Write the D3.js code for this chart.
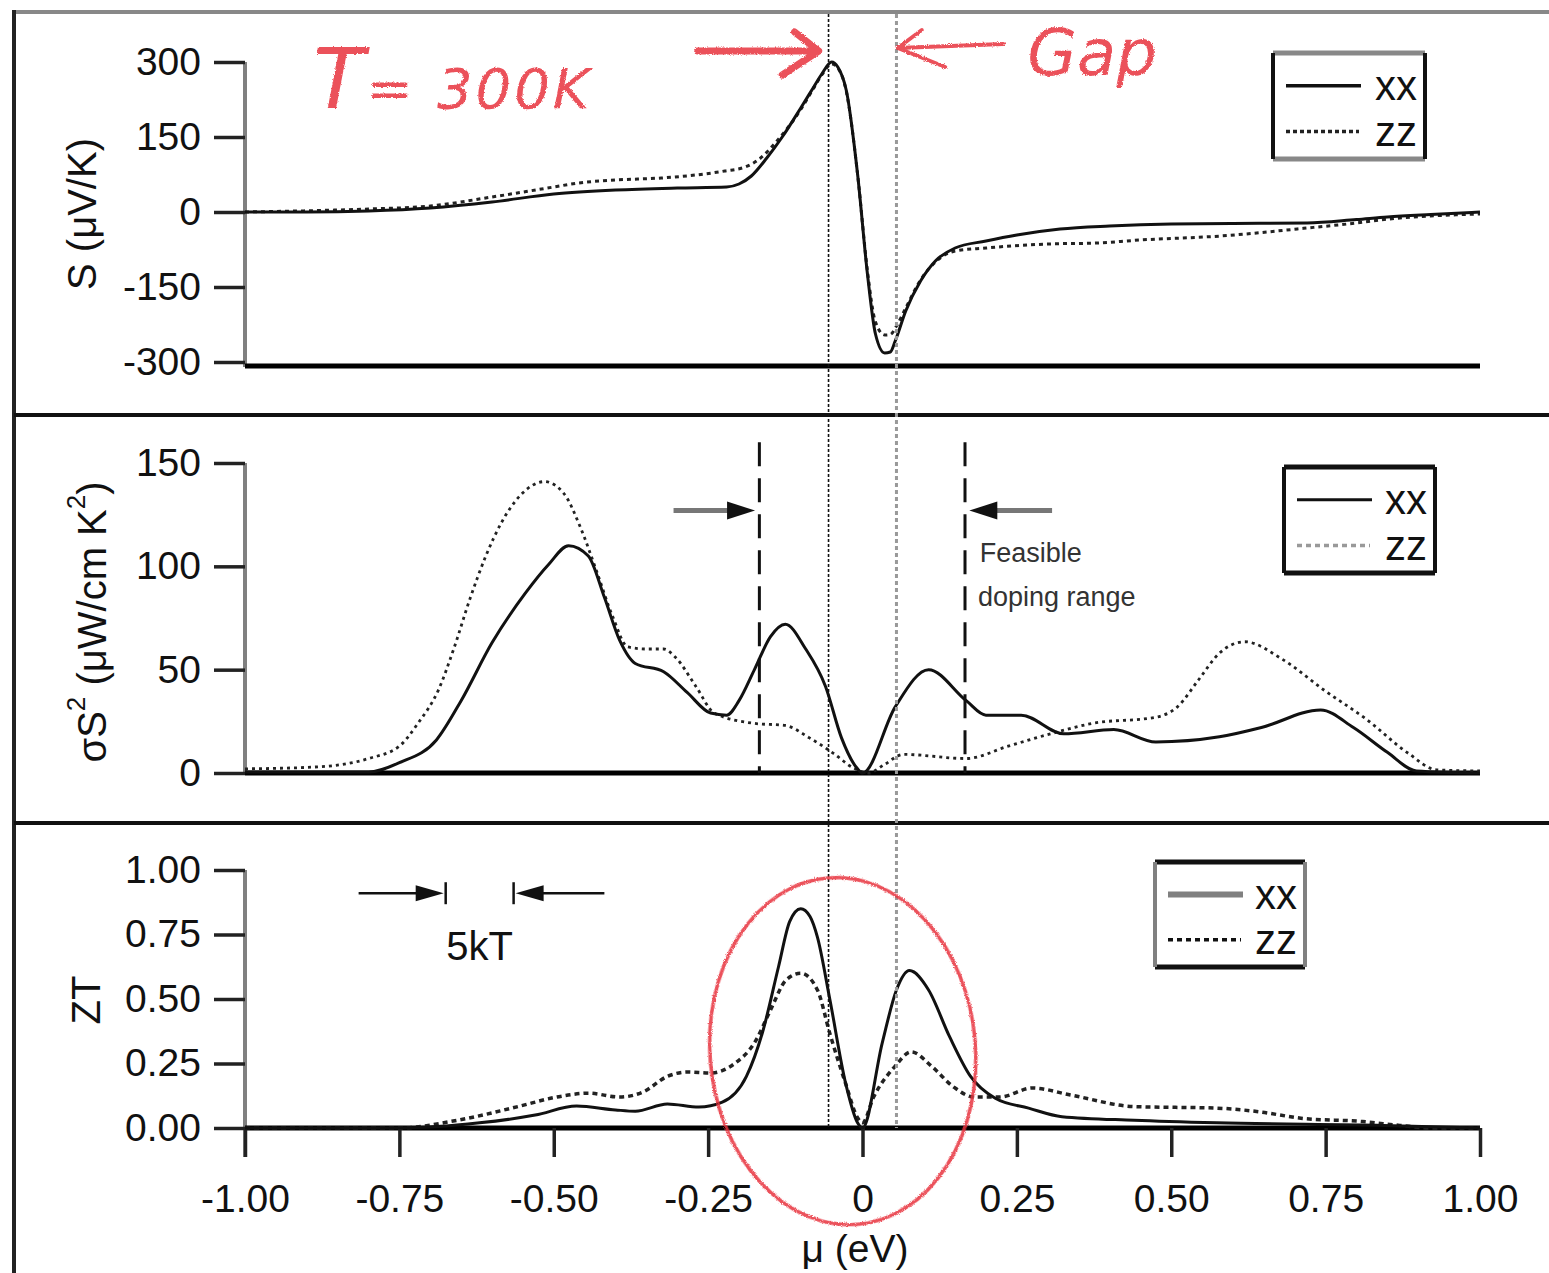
<!DOCTYPE html>
<html><head><meta charset="utf-8">
<script src="https://cdn.jsdelivr.net/npm/d3@7"></script>
<style>
html,body{margin:0;padding:0;background:#fff;}
svg{display:block;font-family:"Liberation Sans",Arial,Helvetica,sans-serif;}
</style></head><body>
<svg id="chart" width="1549" height="1273"></svg>
<script>
// ---------- tick labels ----------
const xTickValues = [-1, -0.75, -0.5, -0.25, 0, 0.25, 0.5, 0.75, 1];
const xTickLabels = ["-1.00", "-0.75", "-0.50", "-0.25", "0", "0.25", "0.50", "0.75", "1.00"];
const sTickValues = [300, 150, 0, -150, -300];
const sTickLabels = ["300", "150", "0", "-150", "-300"];
const pfTickValues = [150, 100, 50, 0];
const pfTickLabels = ["150", "100", "50", "0"];
const ztTickValues = [1, 0.75, 0.5, 0.25, 0];
const ztTickLabels = ["1.00", "0.75", "0.50", "0.25", "0.00"];
const seriesNames = ["xx", "zz"];

// ---------- Seebeck S (uV/K) ----------
const sXXmu = [-1, -0.9, -0.8, -0.7, -0.6, -0.5, -0.4, -0.3, -0.22, -0.2, -0.18, -0.155, -0.13, -0.1, -0.08, -0.066, -0.05, -0.04, -0.026, -0.008, 0.008, 0.021, 0.036, 0.045, 0.053, 0.07, 0.094, 0.118, 0.15, 0.2, 0.25, 0.32, 0.4, 0.5, 0.6, 0.72, 0.8, 0.85, 0.92, 1];
const sXX   = [0, 0, 2, 8, 20, 36, 44, 48, 50, 56, 72, 108, 150, 208, 248, 276, 300, 290, 242, 76, -124, -244, -282, -280, -258, -198, -138, -98, -72, -58, -46, -34, -28, -24, -23, -22, -15, -10, -5, 0];
const sZZmu = [-1, -0.85, -0.8, -0.7, -0.6, -0.5, -0.46, -0.4, -0.326, -0.27, -0.223, -0.19, -0.168, -0.14, -0.1, -0.08, -0.066, -0.05, -0.04, -0.026, -0.008, 0.008, 0.021, 0.036, 0.045, 0.055, 0.07, 0.094, 0.118, 0.15, 0.2, 0.3, 0.38, 0.45, 0.58, 0.72, 0.8, 0.853, 0.92, 1];
const sZZ   = [0, 4, 6, 12, 30, 50, 58, 64, 68, 74, 82, 90, 105, 140, 205, 246, 274, 296, 288, 240, 76, -118, -220, -246, -245, -228, -192, -136, -100, -78, -72, -64, -62, -56, -48, -32, -22, -14, -8, -4];

// ---------- power factor sigma S^2 (uW/cm K^2) ----------
const pfXXmu = [-1, -0.8, -0.75, -0.69, -0.65, -0.6, -0.546, -0.508, -0.476, -0.444, -0.418, -0.393, -0.368, -0.322, -0.284, -0.246, -0.22, -0.2, -0.175, -0.149, -0.125, -0.092, -0.06, -0.034, -0.008, 0, 0.053, 0.107, 0.168, 0.2, 0.257, 0.326, 0.407, 0.475, 0.578, 0.646, 0.742, 0.795, 0.85, 0.897, 1];
const pfXX   = [0.5, 0.5, 5, 16, 35, 63, 87, 101, 110, 105, 85, 64, 53, 49, 39, 29, 28, 35, 50, 66, 72, 60, 42, 17, 2, 0, 32, 50, 35, 28, 28, 19, 21, 15, 17.5, 22, 30.5, 22, 10, 1, 0];
const pfZZmu = [-1, -0.88, -0.8, -0.75, -0.72, -0.687, -0.662, -0.636, -0.61, -0.585, -0.552, -0.515, -0.483, -0.457, -0.431, -0.405, -0.38, -0.35, -0.322, -0.303, -0.27, -0.24, -0.175, -0.125, -0.086, -0.047, -0.015, 0.01, 0.035, 0.066, 0.168, 0.236, 0.305, 0.372, 0.475, 0.51, 0.544, 0.578, 0.619, 0.68, 0.748, 0.816, 0.884, 0.93, 1];
const pfZZ   = [2, 3, 7, 13, 24, 40, 60, 84, 105, 121, 135, 141, 135, 119, 98, 76, 61, 60, 60, 56, 42, 29, 24, 23, 17, 9.5, 2.5, 0, 4, 9, 7, 13, 19, 24, 27, 32, 45, 58, 63.5, 55, 40, 26, 9.5, 1.5, 1];

// ---------- figure of merit ZT ----------
const ztXXmu = [-1, -0.75, -0.62, -0.53, -0.463, -0.4, -0.368, -0.316, -0.265, -0.227, -0.188, -0.162, -0.136, -0.118, -0.1, -0.085, -0.073, -0.053, -0.027, -0.008, 0, 0.032, 0.055, 0.076, 0.107, 0.141, 0.175, 0.215, 0.269, 0.323, 0.44, 0.574, 0.844, 1];
const ztXX   = [0, 0, 0.02, 0.05, 0.085, 0.07, 0.065, 0.093, 0.081, 0.1, 0.2, 0.37, 0.625, 0.8, 0.85, 0.82, 0.74, 0.5, 0.17, 0.02, 0, 0.33, 0.535, 0.61, 0.535, 0.354, 0.2, 0.115, 0.077, 0.044, 0.03, 0.02, 0.01, 0];
const ztZZmu = [-1, -0.75, -0.656, -0.558, -0.495, -0.444, -0.393, -0.355, -0.316, -0.284, -0.246, -0.207, -0.175, -0.149, -0.124, -0.1, -0.073, -0.053, -0.027, -0.008, 0, 0.018, 0.052, 0.079, 0.113, 0.147, 0.181, 0.222, 0.275, 0.337, 0.44, 0.574, 0.642, 0.71, 0.81, 0.87, 0.92, 1];
const ztZZ   = [0, 0, 0.03, 0.083, 0.12, 0.135, 0.12, 0.14, 0.2, 0.217, 0.213, 0.25, 0.33, 0.457, 0.573, 0.6, 0.535, 0.367, 0.17, 0.04, 0.02, 0.12, 0.237, 0.295, 0.237, 0.16, 0.12, 0.12, 0.155, 0.128, 0.083, 0.077, 0.063, 0.038, 0.025, 0.01, 0, 0];

// ---------- annotation anchors (data units) ----------
const gapEdges = [-0.055, 0.055];
const dopingEdges = [-0.167, 0.166];
const kTBars = [-0.675, -0.565];

// =====================================================
const svg = d3.select("#chart");
const FONT = "'Liberation Sans', Arial, Helvetica, sans-serif";
const x  = d3.scaleLinear().domain([-1, 1]).range([245, 1480]);
const yS = d3.scaleLinear().domain([-300, 300]).range([362, 62]);
const yP = d3.scaleLinear().domain([0, 150]).range([773, 463]);
const yZ = d3.scaleLinear().domain([0, 1]).range([1128, 870]);

// crayon filter for red handwriting
const defs = svg.append("defs");
const f = defs.append("filter").attr("id", "crayon").attr("x", "-10%").attr("y", "-10%").attr("width", "120%").attr("height", "120%");
f.append("feTurbulence").attr("type", "fractalNoise").attr("baseFrequency", 0.9).attr("numOctaves", 2).attr("result", "n");
f.append("feDisplacementMap").attr("in", "SourceGraphic").attr("in2", "n").attr("scale", 3).attr("xChannelSelector", "R").attr("yChannelSelector", "G");

// frame
svg.append("line").attr("x1", 14).attr("x2", 1549).attr("y1", 12).attr("y2", 12).attr("stroke", "#888").attr("stroke-width", 4);
svg.append("line").attr("x1", 14).attr("x2", 14).attr("y1", 10).attr("y2", 1273).attr("stroke", "#222").attr("stroke-width", 4);
[415, 823].forEach(yy => svg.append("line").attr("x1", 14).attr("x2", 1549).attr("y1", yy).attr("y2", yy).attr("stroke", "#111").attr("stroke-width", 4));

function yAxis(scale, values, labels, top, bottom) {
  svg.append("line").attr("x1", 245).attr("x2", 245).attr("y1", top).attr("y2", bottom)
    .attr("stroke", "#808080").attr("stroke-width", 4);
  const g = svg.append("g").attr("transform", "translate(245,0)")
    .call(d3.axisLeft(scale).tickValues(values).tickFormat((d, i) => labels[i])
      .tickSize(31).tickSizeOuter(0).tickPadding(13));
  g.select(".domain").remove();
  g.attr("font-size", 39).attr("font-family", FONT);
  g.selectAll(".tick line").attr("stroke", "#222").attr("stroke-width", 3.5);
  g.selectAll(".tick text").attr("fill", "#111");
}
function baseline(yy, x0) {
  svg.append("line").attr("x1", x0).attr("x2", x(1)).attr("y1", yy).attr("y2", yy)
    .attr("stroke", "#000").attr("stroke-width", 5);
}

yAxis(yS, sTickValues, sTickLabels, yS(300), yS(-300) + 5);
baseline(yS(-300) + 4, x(-1));
yAxis(yP, pfTickValues, pfTickLabels, yP(150), yP(0));
baseline(yP(0), x(-1));
yAxis(yZ, ztTickValues, ztTickLabels, yZ(1), yZ(0) + 29);
baseline(yZ(0), x(-1));

// x axis panel 3
const gx = svg.append("g").attr("transform", `translate(0,${yZ(0)})`)
  .call(d3.axisBottom(x).tickValues(xTickValues).tickFormat((d, i) => xTickLabels[i])
    .tickSize(29).tickSizeOuter(0).tickPadding(27));
gx.select(".domain").remove();
gx.attr("font-size", 39).attr("font-family", FONT);
gx.selectAll(".tick line").attr("stroke", "#222").attr("stroke-width", 3.5);
gx.selectAll(".tick text").attr("fill", "#111");

// curves
function curve(mus, vals, yscale, opts) {
  const pts = mus.map((m, i) => [m, vals[i]]);
  const line = d3.line().x(d => x(d[0])).y(d => yscale(d[1])).curve(d3.curveMonotoneX);
  svg.append("path").datum(pts).attr("d", line).attr("fill", "none")
    .attr("stroke", opts.color).attr("stroke-width", opts.width)
    .attr("stroke-dasharray", opts.dash || null).attr("stroke-linejoin", "round");
}
const solid = {color: "#111", width: 3};
curve(sZZmu, sZZ, yS, {color: "#222", width: 3, dash: "4,4"});
curve(sXXmu, sXX, yS, solid);
curve(pfZZmu, pfZZ, yP, {color: "#222", width: 2.8, dash: "3,4"});
curve(pfXXmu, pfXX, yP, solid);
curve(ztZZmu, ztZZ, yZ, {color: "#222", width: 3.5, dash: "5,4"});
curve(ztXXmu, ztXX, yZ, solid);

// gap lines
svg.append("line").attr("x1", x(gapEdges[0])).attr("x2", x(gapEdges[0])).attr("y1", 14).attr("y2", yZ(0))
  .attr("stroke", "#111").attr("stroke-width", 1.6).attr("stroke-dasharray", "3,2");
svg.append("line").attr("x1", x(gapEdges[1])).attr("x2", x(gapEdges[1])).attr("y1", 14).attr("y2", yZ(0))
  .attr("stroke", "#999").attr("stroke-width", 3).attr("stroke-dasharray", "4,3");

// feasible doping range dashed lines
dopingEdges.forEach(m => svg.append("line").attr("x1", x(m)).attr("x2", x(m)).attr("y1", yP(160)).attr("y2", yP(0))
  .attr("stroke", "#111").attr("stroke-width", 3).attr("stroke-dasharray", "24,12"));

function arrowHead(tipX, tipY, dir, len, half, color) {
  svg.append("path").attr("d", `M${tipX},${tipY} L${tipX - dir * len},${tipY - half} L${tipX - dir * len},${tipY + half} Z`).attr("fill", color);
}
// doping arrows
const ay = yP(127);
svg.append("line").attr("x1", x(-0.306)).attr("x2", x(-0.2)).attr("y1", ay).attr("y2", ay).attr("stroke", "#777").attr("stroke-width", 5);
arrowHead(x(-0.174), ay, 1, 28, 9, "#111");
svg.append("line").attr("x1", x(0.307)).attr("x2", x(0.2)).attr("y1", ay).attr("y2", ay).attr("stroke", "#777").attr("stroke-width", 5);
arrowHead(x(0.173), ay, -1, 28, 9, "#111");
svg.append("text").attr("x", x(0.19)).attr("y", yP(102)).attr("font-size", 27).attr("fill", "#333").attr("font-family", FONT).text("Feasible");
svg.append("text").attr("x", x(0.187)).attr("y", yP(81)).attr("font-size", 27).attr("fill", "#333").attr("font-family", FONT).text("doping range");

// 5kT annotation
const ky = yZ(0.91);
svg.append("line").attr("x1", x(-0.816)).attr("x2", x(-0.69)).attr("y1", ky).attr("y2", ky).attr("stroke", "#111").attr("stroke-width", 2.5);
arrowHead(x(kTBars[0]) - 2, ky, 1, 28, 8, "#111");
svg.append("line").attr("x1", x(kTBars[0])).attr("x2", x(kTBars[0])).attr("y1", ky - 11).attr("y2", ky + 11).attr("stroke", "#111").attr("stroke-width", 2.5);
svg.append("line").attr("x1", x(-0.55)).attr("x2", x(-0.418)).attr("y1", ky).attr("y2", ky).attr("stroke", "#111").attr("stroke-width", 2.5);
arrowHead(x(kTBars[1]) + 2, ky, -1, 28, 8, "#111");
svg.append("line").attr("x1", x(kTBars[1])).attr("x2", x(kTBars[1])).attr("y1", ky - 11).attr("y2", ky + 11).attr("stroke", "#111").attr("stroke-width", 2.5);
svg.append("text").attr("x", x(-0.62)).attr("y", yZ(0.65)).attr("text-anchor", "middle").attr("font-size", 40).attr("fill", "#111").attr("font-family", FONT).text("5kT");

// axis titles
function vlabel(cx, cy, build) {
  const t = svg.append("text").attr("transform", `translate(${cx},${cy}) rotate(-90)`)
    .attr("text-anchor", "middle").attr("dominant-baseline", "central")
    .attr("font-size", 40).attr("fill", "#111").attr("font-family", FONT);
  build(t);
}
vlabel(82, 214, t => t.text("S (μV/K)"));
vlabel(92, 622, t => {
  t.append("tspan").text("σS");
  t.append("tspan").attr("font-size", 26).attr("dy", -16).text("2");
  t.append("tspan").attr("dy", 16).text(" (μW/cm K");
  t.append("tspan").attr("font-size", 26).attr("dy", -16).text("2");
  t.append("tspan").attr("dy", 16).text(")");
});
vlabel(86, 1000, t => t.text("ZT"));
svg.append("text").attr("x", 855).attr("y", 1262).attr("text-anchor", "middle").attr("font-size", 39)
  .attr("fill", "#111").attr("font-family", FONT).text("μ (eV)");

// legends
function legend(bx, by, w, h, zzColor, xxColor, xxWidth, zzDash, topColor, sideColor) {
  const g = svg.append("g");
  g.append("rect").attr("x", bx).attr("y", by).attr("width", w).attr("height", h).attr("fill", "#fff").attr("stroke", "none");
  g.append("line").attr("x1", bx).attr("x2", bx + w).attr("y1", by).attr("y2", by).attr("stroke", topColor).attr("stroke-width", 5);
  g.append("line").attr("x1", bx).attr("x2", bx + w).attr("y1", by + h).attr("y2", by + h).attr("stroke", topColor).attr("stroke-width", 5);
  g.append("line").attr("x1", bx).attr("x2", bx).attr("y1", by).attr("y2", by + h).attr("stroke", sideColor).attr("stroke-width", 4);
  g.append("line").attr("x1", bx + w).attr("x2", bx + w).attr("y1", by).attr("y2", by + h).attr("stroke", sideColor).attr("stroke-width", 4);
  const y1 = by + h * 0.31, y2 = by + h * 0.74;
  g.append("line").attr("x1", bx + 13).attr("x2", bx + 88).attr("y1", y1).attr("y2", y1).attr("stroke", xxColor).attr("stroke-width", xxWidth);
  g.append("line").attr("x1", bx + 13).attr("x2", bx + 86).attr("y1", y2).attr("y2", y2).attr("stroke", zzColor).attr("stroke-width", 3.5).attr("stroke-dasharray", zzDash);
  [y1, y2].forEach((yy, i) => g.append("text").attr("x", bx + w - 8).attr("y", yy).attr("text-anchor", "end")
    .attr("dominant-baseline", "central").attr("font-size", 42).attr("fill", "#111").attr("font-family", FONT).text(seriesNames[i]));
}
legend(1273, 53, 152, 106, "#222", "#111", 3.5, "4,3", "#888", "#111");
legend(1284, 467, 151, 106, "#999", "#111", 3, "5,4", "#111", "#111");
legend(1155, 862, 150, 105, "#111", "#808080", 6, "5,4", "#111", "#808080");

// red handwritten annotations
const red = "#e8323e";
const ann = svg.append("g").attr("filter", "url(#crayon)").attr("opacity", 0.85);
const tt = ann.append("text").attr("x", x(-0.89)).attr("y", yS(208)).attr("fill", red)
  .attr("font-family", "'DejaVu Sans', sans-serif").attr("font-style", "italic");
tt.append("tspan").attr("font-size", 84).text("T");
tt.append("tspan").attr("font-size", 56).attr("dx", 2).attr("letter-spacing", 3).text("= 300K");
ann.append("text").attr("x", x(0.267)).attr("y", yS(274)).attr("fill", red).attr("font-size", 64)
  .attr("font-family", "'DejaVu Sans', sans-serif").attr("font-style", "italic").text("Gap");
ann.append("path").attr("d", `M${x(-0.267)},${yS(322)} L${x(-0.071)},${yS(322)} M${x(-0.110)},${yS(360)} L${x(-0.071)},${yS(322)} L${x(-0.130)},${yS(274)}`)
  .attr("fill", "none").attr("stroke", red).attr("stroke-width", 7).attr("stroke-linecap", "round").attr("stroke-linejoin", "round");
ann.append("path").attr("d", `M${x(0.228)},${yS(336)} L${x(0.057)},${yS(328)} M${x(0.096)},${yS(364)} L${x(0.057)},${yS(328)} L${x(0.134)},${yS(290)}`)
  .attr("fill", "none").attr("stroke", red).attr("stroke-width", 4).attr("stroke-linecap", "round").attr("stroke-linejoin", "round");
const ecx = x(-0.032), ecy = yZ(0.298);
ann.append("ellipse").attr("cx", ecx).attr("cy", ecy)
  .attr("rx", x(0.215) - x(0)).attr("ry", yZ(0) - yZ(0.674))
  .attr("transform", `rotate(-5,${ecx},${ecy})`)
  .attr("fill", "none").attr("stroke", red).attr("stroke-width", 3.5);
</script>
</body></html>
